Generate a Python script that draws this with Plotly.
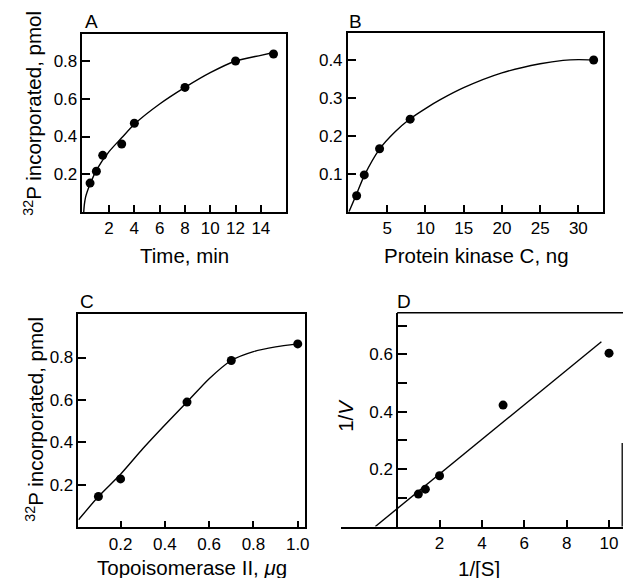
import plotly.graph_objects as go

W, H = 627, 578

# ---------------- data ----------------
# Panel A
a_time = [0.5, 1, 1.5, 3, 4, 8, 12, 15]
a_p32 = [0.153, 0.216, 0.30, 0.36, 0.47, 0.66, 0.80, 0.837]
a_fit_x = [0, 0.05, 0.15, 0.3, 0.5, 1, 2, 3, 4, 6, 8, 10, 12, 14, 15]
a_fit_y = [0, 0.04, 0.08, 0.113, 0.147, 0.222, 0.32, 0.393, 0.465, 0.572, 0.66, 0.738, 0.80, 0.83, 0.845]

# Panel B
b_pkc = [1, 2, 4, 8, 32]
b_p32 = [0.042, 0.097, 0.166, 0.244, 0.40]
b_fit_x = [0, 1, 2, 4, 6, 8, 10, 12, 15, 20, 25, 28, 30, 32]
b_fit_y = [0, 0.047, 0.095, 0.165, 0.21, 0.245, 0.272, 0.296, 0.327, 0.366, 0.39, 0.399, 0.401, 0.40]

# Panel C
c_topo = [0.1, 0.2, 0.5, 0.7, 1.0]
c_p32 = [0.145, 0.228, 0.59, 0.786, 0.864]
c_fit_x = [0.01, 0.1, 0.2, 0.3, 0.4, 0.5, 0.6, 0.7, 0.8, 0.9, 1.0]
c_fit_y = [0.035, 0.145, 0.25, 0.37, 0.482, 0.59, 0.70, 0.786, 0.828, 0.85, 0.864]

# Panel D (double reciprocal)
d_inv_s = [1.0, 1.33, 2.0, 5.0, 10.0]
d_inv_v = [0.113, 0.13, 0.177, 0.423, 0.604]
d_line_x = [-1.03, 9.64]
d_line_y = [0, 0.644]

# tick labels
a_xticks = [2, 4, 6, 8, 10, 12, 14]
a_yticks = [0.2, 0.4, 0.6, 0.8]
b_xticks = [5, 10, 15, 20, 25, 30]
b_yticks = [0.1, 0.2, 0.3, 0.4]
c_xticks = [0.2, 0.4, 0.6, 0.8, 1.0]
c_xticktext = ["0.2", "0.4", "0.6", "0.8", "1.0"]
c_yticks = [0.2, 0.4, 0.6, 0.8]
d_xticks = [2, 4, 6, 8, 10]
d_yticks = [0.2, 0.4, 0.6]
d_yminor = [0.1, 0.3, 0.5, 0.7]

FONT = "Liberation Sans, Arial, Helvetica, sans-serif"


def px(x):
    return x / W


def py(y):
    return 1 - y / H


fig = go.Figure()

MK = dict(color="black", size=9)
LN = dict(color="black", width=1.4, shape="spline", smoothing=0.7)

panels = [
    ("", a_time, a_p32, a_fit_x, a_fit_y),
    ("2", b_pkc, b_p32, b_fit_x, b_fit_y),
    ("3", c_topo, c_p32, c_fit_x, c_fit_y),
]
for sfx, x, y, fx, fy in panels:
    fig.add_trace(go.Scatter(x=fx, y=fy, mode="lines", line=LN,
                             xaxis="x" + sfx, yaxis="y" + sfx, hoverinfo="skip"))
    fig.add_trace(go.Scatter(x=x, y=y, mode="markers", marker=MK,
                             xaxis="x" + sfx, yaxis="y" + sfx))

fig.add_trace(go.Scatter(x=d_line_x, y=d_line_y, mode="lines",
                         line=dict(color="black", width=1.4),
                         xaxis="x4", yaxis="y4", hoverinfo="skip"))
fig.add_trace(go.Scatter(x=d_inv_s, y=d_inv_v, mode="markers", marker=MK,
                         xaxis="x4", yaxis="y4"))

ax_common = dict(showline=True, linecolor="black", linewidth=1.6,
                 ticks="inside", tickcolor="black", tickwidth=1.5,
                 showgrid=False, zeroline=False,
                 tickfont=dict(family=FONT, size=17, color="black"))

xl = dict(ax_common, ticklen=7, mirror=True)
yl = dict(ax_common, ticklen=8, mirror=True)

fig.update_layout(
    width=W, height=H,
    margin=dict(l=0, r=0, t=0, b=0),
    paper_bgcolor="white", plot_bgcolor="white",
    showlegend=False,
    font=dict(family=FONT, color="black"),
    xaxis=dict(xl, domain=[px(83), px(288)], range=[-0.1, 16.0],
               tickvals=a_xticks, anchor="y"),
    yaxis=dict(yl, domain=[py(212), py(34)], range=[0, 0.943],
               tickvals=a_yticks, anchor="x"),
    xaxis2=dict(xl, domain=[px(350), px(606.7)], range=[-0.16, 33.2],
                tickvals=b_xticks, anchor="y2"),
    yaxis2=dict(yl, domain=[py(211.7), py(32.7)], range=[0, 0.472],
                tickvals=b_yticks, anchor="x2"),
    xaxis3=dict(xl, domain=[px(79), px(307)], range=[0.01, 1.033],
                tickvals=c_xticks, ticktext=c_xticktext, anchor="y3"),
    yaxis3=dict(yl, domain=[py(527.3), py(314)], range=[0, 1.005],
                tickvals=c_yticks, anchor="x3"),
    xaxis4=dict(ax_common, ticklen=7, mirror=False,
                domain=[px(343), 1.0], range=[-2.66, 10.66],
                tickvals=d_xticks, anchor="y4"),
    yaxis4=dict(ax_common, ticklen=9, mirror=False,
                domain=[py(526.5), py(312.7)], range=[0, 0.745],
                tickvals=d_yticks,
                minor=dict(tickvals=d_yminor, ticks="inside", ticklen=9,
                           tickwidth=1.5, tickcolor="black", showgrid=False),
                anchor="free", position=px(399.7)),
)

# frame pieces of panel D
fig.add_shape(type="line", xref="paper", yref="y4 domain",
              x0=px(399.7), x1=1.0, y0=1, y1=1,
              line=dict(color="black", width=1.6))
fig.add_shape(type="line", xref="paper", yref="y4 domain",
              x0=px(626.2), x1=px(626.2), y0=0, y1=0.39,
              line=dict(color="black", width=1.3))

TF = dict(family=FONT, size=20.5, color="black")
LF = dict(family=FONT, size=19, color="black")


def ann(text, x, y, font, angle=0, xanchor="center", yanchor="middle"):
    fig.add_annotation(text=text, x=px(x), y=py(y), xref="paper", yref="paper",
                       showarrow=False, font=font, textangle=angle,
                       xanchor=xanchor, yanchor=yanchor)


# axis titles
ann("Time, min", 186, 255, TF)
ann("Protein kinase C, ng", 480, 255, TF)
ann("Topoisomerase II, <i>μ</i>g", 193, 567, TF)
ann("1/[S]", 482, 568, TF)
ann("<sup>32</sup>P incorporated, pmol", 33, 113, TF, angle=-90)
ann("<sup>32</sup>P incorporated, pmol", 35, 419, TF, angle=-90)
ann("1/<i>V</i>", 347, 415, TF, angle=-90)

# panel letters
ann("A", 84, 21.5, LF, xanchor="left")
ann("B", 349, 21.5, LF, xanchor="left")
ann("C", 78, 301.5, LF, xanchor="left")
ann("D", 398, 301, LF, xanchor="left")

fig.write_html(
    "out.html",
    config={"displayModeBar": False},
    post_script="document.body.style.margin='0px';document.body.style.overflow='hidden';",
)
